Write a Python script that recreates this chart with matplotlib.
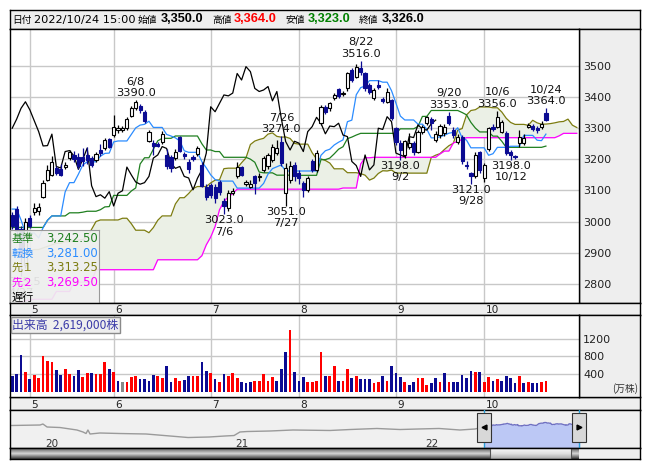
import numpy as np
import pandas as pd
import matplotlib
matplotlib.use('Agg')
import matplotlib.pyplot as plt
from matplotlib.patches import Rectangle
from matplotlib.colors import LinearSegmentedColormap

plt.rcParams['font.family'] = ['DejaVu Sans', 'Noto Sans CJK JP']

# ---------------- data ----------------
holidays = ['2022-04-29', '2022-05-03', '2022-05-04', '2022-05-05', '2022-07-18',
            '2022-08-11', '2022-09-19', '2022-09-23', '2022-10-10']

opens = [3020, 3040, 2975, 2860, 3012, 3029, 3035, 3080, 3134, 3149,
         3171, 3168, 3175, 3203, 3215, 3209, 3209, 3214, 3203, 3198,
         3230, 3236, 3266, 3278, 3293, 3295, 3300, 3340, 3364, 3372,
         3353, 3260, 3252, 3250, 3257, 3214, 3209, 3203, 3273, 3218,
         3190, 3206, 3217, 3182, 3112, 3118, 3112, 3128, 3065, 3043,
         3091, 3145, 3175, 3120, 3112, 3145, 3143, 3166, 3177, 3198,
         3220, 3257, 3091, 3134, 3182, 3155, 3123, 3102, 3193, 3166,
         3316, 3369, 3364, 3396, 3425, 3410, 3428, 3487, 3466, 3492,
         3476, 3439, 3396, 3439, 3393, 3385, 3391, 3300, 3252, 3214,
         3238, 3252, 3225, 3289, 3316, 3329, 3262, 3278, 3284, 3339,
         3295, 3257, 3273, 3182, 3155, 3145, 3225, 3139, 3232, 3303,
         3305, 3289, 3284, 3225, 3212, 3252, 3254, 3305, 3307, 3302,
         3305, 3350]
highs = [3030, 3050, 2985, 3010, 3020, 3059, 3060, 3134, 3182, 3211,
         3180, 3185, 3190, 3230, 3228, 3220, 3235, 3240, 3210, 3225,
         3250, 3268, 3270, 3343, 3310, 3308, 3335, 3370, 3390, 3378,
         3358, 3295, 3262, 3255, 3290, 3232, 3215, 3232, 3275, 3225,
         3200, 3215, 3242, 3190, 3120, 3125, 3120, 3135, 3075, 3100,
         3107, 3192, 3180, 3135, 3135, 3150, 3155, 3210, 3220, 3250,
         3262, 3274, 3187, 3195, 3190, 3165, 3130, 3145, 3200, 3230,
         3375, 3375, 3385, 3412, 3430, 3420, 3482, 3492, 3505, 3516,
         3480, 3445, 3430, 3455, 3400, 3428, 3395, 3305, 3262, 3262,
         3285, 3258, 3295, 3310, 3340, 3335, 3290, 3315, 3315, 3353,
         3305, 3280, 3278, 3193, 3160, 3225, 3228, 3188, 3305, 3315,
         3356, 3325, 3290, 3230, 3215, 3295, 3280, 3318, 3315, 3308,
         3322, 3364]
lows = [2975, 2960, 2825.5, 2850, 2980, 3022, 3020, 3075, 3129, 3145,
        3150, 3145, 3170, 3198, 3190, 3170, 3180, 3185, 3175, 3190,
        3212, 3230, 3235, 3272, 3285, 3288, 3295, 3335, 3358, 3350,
        3318, 3255, 3215, 3238, 3250, 3170, 3160, 3198, 3225, 3200,
        3155, 3195, 3210, 3110, 3070, 3075, 3060, 3085, 3023, 3035,
        3085, 3140, 3145, 3115, 3108, 3090, 3130, 3160, 3170, 3190,
        3215, 3180, 3051, 3125, 3130, 3120, 3080, 3095, 3160, 3160,
        3310, 3345, 3355, 3390, 3398, 3402, 3420, 3450, 3460, 3470,
        3420, 3410, 3390, 3425, 3380, 3380, 3325, 3245, 3198, 3205,
        3232, 3215, 3220, 3280, 3310, 3295, 3255, 3270, 3275, 3310,
        3270, 3250, 3185, 3170, 3121, 3140, 3155, 3128, 3228, 3290,
        3300, 3285, 3215, 3198, 3202, 3240, 3245, 3300, 3290, 3285,
        3298, 3323]
closes = [2985, 2970, 2890, 3000, 2985, 3043, 3046, 3125, 3166, 3192,
          3157, 3150, 3182, 3225, 3200, 3177, 3196, 3198, 3182, 3217,
          3220, 3262, 3241, 3305, 3300, 3300, 3329, 3364, 3385, 3359,
          3324, 3289, 3243, 3244, 3281, 3177, 3172, 3225, 3228, 3211,
          3168, 3200, 3236, 3115, 3080, 3086, 3075, 3096, 3050, 3091,
          3099, 3175, 3150, 3127, 3120, 3125, 3145, 3204, 3214, 3241,
          3235, 3187, 3171, 3177, 3145, 3140, 3102, 3139, 3166, 3220,
          3369, 3353, 3380, 3407, 3404, 3413, 3476, 3455, 3498, 3482,
          3428, 3418, 3423, 3434, 3388, 3418, 3332, 3257, 3230, 3258,
          3252, 3225, 3289, 3305, 3335, 3316, 3282, 3307, 3305, 3316,
          3278, 3273, 3193, 3180, 3145, 3214, 3166, 3182, 3300, 3296,
          3337, 3321, 3220, 3214, 3208, 3273, 3270, 3311, 3297, 3294,
          3314, 3326]
# volume in 10,000 shares
volumes = [354, 415, 834, 453, 301, 377, 324, 812, 697, 674,
           491, 377, 514, 400, 354, 491, 331, 423, 423, 400,
           400, 674, 514, 446, 263, 240, 240, 331, 354, 301,
           286, 263, 377, 354, 309, 583, 240, 309, 263, 278,
           354, 354, 370, 674, 469, 423, 286, 225, 400, 370,
           423, 309, 240, 210, 225, 263, 263, 400, 263, 331,
           263, 514, 903, 1383, 446, 263, 331, 240, 240, 263,
           903, 370, 370, 583, 263, 263, 514, 309, 370, 286,
           286, 286, 202, 225, 354, 248, 583, 431, 339, 225,
           171, 225, 309, 309, 171, 202, 309, 225, 431, 225,
           225, 225, 377, 309, 476, 453, 453, 240, 331, 263,
           286, 263, 354, 309, 202, 354, 202, 225, 202, 202,
           240, 261.9]

# ichimoku lines (one value per bar, spans run 7 bars ahead)
tenkan = [3040, 3040, 3005, 2963, 2963, 2963, 2947, 2980, 3004, 3018,
          3018, 3018, 3095, 3125, 3125, 3152, 3182, 3192, 3192, 3192,
          3210, 3219, 3220, 3256, 3259, 3259, 3259, 3280, 3301, 3310,
          3312.5, 3322.5, 3302.5, 3302.5, 3302.5, 3280, 3275, 3269, 3259, 3227.5,
          3222.5, 3222.5, 3222.5, 3192.5, 3172.5, 3150, 3135, 3130, 3130, 3130,
          3130, 3107.5, 3107.5, 3107.5, 3107.5, 3107.5, 3107.5, 3122.5, 3152.5, 3170,
          3176, 3182, 3162.5, 3162.5, 3162.5, 3162.5, 3162.5, 3162.5, 3162.5, 3162.5,
          3213, 3227.5, 3232.5, 3246, 3255, 3262.5, 3321, 3326, 3407.5, 3430.5,
          3435.5, 3453, 3453, 3453, 3448, 3448, 3420.5, 3380.5, 3339, 3326.5,
          3326.5, 3326.5, 3313, 3313, 3296.5, 3269, 3269, 3272.5, 3277.5, 3284,
          3286.5, 3301.5, 3269, 3261.5, 3237, 3237, 3237, 3237, 3213, 3218,
          3238.5, 3238.5, 3238.5, 3242, 3242, 3242, 3277, 3277, 3277, 3261.5,
          3260, 3281]
kijun = [2981, 2981, 2981, 2981, 2981, 2981, 2981, 2981, 3004, 3018,
         3018, 3018, 3018, 3028, 3028, 3028, 3030, 3033, 3033, 3033,
         3038, 3047, 3048, 3084, 3084, 3084, 3084, 3098, 3108, 3185,
         3205, 3205, 3232.5, 3259.5, 3267.5, 3267.5, 3267.5, 3275, 3275, 3275,
         3275, 3275, 3275, 3250, 3230, 3230, 3225, 3225, 3206.5, 3206.5,
         3206.5, 3206.5, 3206.5, 3206.5, 3200.5, 3190.5, 3159, 3156.5, 3156.5, 3156.5,
         3149, 3149, 3149, 3149, 3148.5, 3148.5, 3148.5, 3148.5, 3148.5, 3148.5,
         3199, 3199, 3204, 3217.5, 3232.5, 3240.5, 3266.5, 3271.5, 3278, 3283.5,
         3283.5, 3283.5, 3283.5, 3283.5, 3283.5, 3283.5, 3283.5, 3283.5, 3298, 3298,
         3298, 3298, 3305.5, 3338, 3338, 3357, 3357, 3357, 3357, 3357,
         3357, 3357, 3350.5, 3343, 3318.5, 3300.5, 3288, 3288, 3288, 3274.5,
         3274.5, 3258, 3238.5, 3238.5, 3238.5, 3238.5, 3238.5, 3238.5, 3238.5, 3238.5,
         3238.5, 3242.5]
senkou_a = [2890, 2890, 2895, 2900, 2905, 2910, 2910, 2915, 2920, 2925,
            2930, 2930, 2935, 2935, 2940, 2940, 2942, 2950, 2975, 3000,
            3005, 3005, 3005, 3005, 3005, 3010.5, 3010.5, 2993, 2972, 2972,
            2972, 2964, 2980.5, 3004, 3018, 3018, 3018, 3056.5, 3076.5, 3076.5,
            3090, 3106, 3112.5, 3112.5, 3112.5, 3124, 3133, 3134, 3170, 3171.5,
            3171.5, 3171.5, 3189, 3204.5, 3247.5, 3258.75, 3263.75, 3267.5, 3281, 3285,
            3273.75, 3271.25, 3272, 3267, 3251.25, 3248.75, 3248.75, 3248.75, 3221.25, 3201.25,
            3201.25, 3196.25, 3188, 3169.5, 3169.5, 3169.5, 3157, 3157, 3157, 3154,
            3149, 3133.25, 3139.5, 3154.5, 3163.25, 3162.5, 3165.5, 3155.75, 3155.75, 3155.5,
            3155.5, 3155.5, 3155.5, 3155.5, 3155.5, 3206, 3213.25, 3218.25, 3231.75, 3243.75,
            3251.5, 3293.75, 3298.75, 3342.75, 3357, 3359.5, 3368.25, 3368.25, 3368.25, 3365.75,
            3365.75, 3352, 3332, 3318.5, 3312.25, 3312.25, 3312.25, 3309.25, 3325.5, 3317.25,
            3313, 3313.25, 3314.75, 3317.25, 3320.5, 3321.75, 3329.25, 3309.75, 3302.25]
senkou_b = [2730, 2735, 2740, 2745, 2748, 2750, 2750, 2750, 2750, 2750,
            2775, 2775, 2775, 2775, 2805, 2805, 2805, 2805, 2807, 2845,
            2845, 2845, 2845, 2845, 2845, 2845, 2845, 2845, 2845, 2845,
            2845, 2845, 2845, 2877, 2877, 2877, 2877, 2877, 2877, 2877,
            2877, 2877, 2877, 2890, 2925, 2950, 2984, 3038, 3064, 3080,
            3090, 3104, 3104, 3104, 3104, 3104, 3104, 3104, 3104, 3104,
            3104, 3104, 3104, 3104, 3104, 3104, 3104, 3104, 3104, 3104,
            3104, 3104, 3104, 3104, 3104, 3107.75, 3107.75, 3107.75, 3107.75, 3185,
            3205, 3205, 3206.5, 3206.5, 3206.5, 3206.5, 3206.5, 3206.5, 3206.5, 3206.5,
            3206.5, 3206.5, 3206.5, 3206.5, 3206.5, 3206.5, 3206.5, 3217.5, 3226.5, 3226.5,
            3252.5, 3257.5, 3264, 3269.5, 3269.5, 3269.5, 3269.5, 3269.5, 3269.5, 3269.5,
            3269.5, 3269.5, 3269.5, 3269.5, 3269.5, 3269.5, 3269.5, 3269.5, 3269.5, 3269.5,
            3269.5, 3269.5, 3269.5, 3269.5, 3275.5, 3283.5, 3283.5, 3283.5, 3283.5]

peak_dates = ['2022-06-08', '2022-07-26', '2022-08-22', '2022-09-20', '2022-10-06', '2022-10-24']
trough_dates = ['2022-04-27', '2022-07-06', '2022-07-27', '2022-09-02', '2022-09-28', '2022-10-12']

# long history shown in the navigator (year, price)
nav_years = [2019.816, 2019.974, 2019.989, 2020.011, 2020.079, 2020.168, 2020.2, 2020.216,
             2020.226, 2020.237, 2020.289, 2020.395, 2020.532, 2020.658, 2020.753, 2020.863,
             2020.947, 2020.995, 2021.026, 2021.063, 2021.184, 2021.305, 2021.5, 2021.605,
             2021.747, 2021.868, 2021.963, 2022.074, 2022.184, 2022.263, 2022.305]
nav_prices = [3110, 3175, 3300, 2925, 2860, 2550, 2300, 2110,
              2550, 2050, 2175, 2110, 2050, 1800, 1610, 1675,
              1800, 1860, 2300, 2360, 2425, 2550, 2490, 2610,
              2740, 2610, 2675, 2740, 2550, 2675, 2925]
nav_ticks = [2020, 2021, 2022]

head_time = '2022/10/24 15:00'

# ---------------- derived ----------------
dates = pd.bdate_range('2022-04-25', '2022-10-24')
dates = dates[~dates.isin(pd.to_datetime(holidays))]
opens, highs, lows, closes = map(np.array, (opens, highs, lows, closes))
volumes = np.array(volumes)
x = np.arange(len(dates))
chikou = pd.Series(closes).shift(-25).to_numpy()
month_first = [i for i in range(1, len(dates)) if dates[i].month != dates[i - 1].month]

DOWN = '#0b0b92'
GRID = '#c8c8c8'
PANEL = '#eeeeee'
JP = ['Noto Sans CJK JP', 'DejaVu Sans']
W, H = 653, 470


def px_box(x0, y0, x1, y1):
    return [x0 / W, 1 - y1 / H, (x1 - x0) / W, (y1 - y0) / H]


fig = plt.figure(figsize=(W / 100, H / 100), dpi=100)
fig.patch.set_facecolor('white')

# ---------------- header ----------------
ax_head = fig.add_axes(px_box(10, 10, 640, 29))
ax_head.set_facecolor(PANEL)
ax_head.set_xticks([]); ax_head.set_yticks([])
hy = 1 - 19.5 / H
parts = [
    (12, '日付', 'black', 'normal', 7),
    (34, head_time, 'black', 'normal', 8.2),
    (138, '始値', 'black', 'normal', 7),
    (161, f'{opens[-1]:,.1f}', 'black', 'bold', 9.2),
    (212, '高値', 'black', 'normal', 7),
    (234, f'{highs[-1]:,.1f}', 'red', 'bold', 9.2),
    (286, '安値', 'black', 'normal', 7),
    (308, f'{lows[-1]:,.1f}', '#008000', 'bold', 9.2),
    (359, '終値', 'black', 'normal', 7),
    (382, f'{closes[-1]:,.1f}', 'black', 'bold', 9.2),
]
for px, s, c, wt, fs in parts:
    fam = ['Liberation Sans', 'Noto Sans CJK JP'] if wt == 'bold' else ['DejaVu Sans', 'Noto Sans CJK JP']
    fig.text(px / W, hy, s, color=c, fontweight=wt, fontsize=fs, va='center', ha='left', family=fam)

# ---------------- price panel ----------------
ax_pl = fig.add_axes(px_box(579, 29, 640, 303))
ax_pl.set_facecolor(PANEL)
ax_pl.set_xticks([]); ax_pl.set_yticks([])

ax = fig.add_axes(px_box(10, 29, 579, 303))
ax.set_xlim(-0.5, 128.5)
ax.set_ylim(2738, 3619)
price_ticks = np.arange(2800, 3501, 100)
for v in price_ticks:
    ax.axhline(v, color=GRID, lw=1, zorder=0)
for i in month_first:
    ax.axvline(i, color=GRID, lw=1, zorder=0)
ax.yaxis.tick_right()
ax.set_yticks(price_ticks)
ax.set_yticklabels([str(v) for v in price_ticks])
ax.tick_params(axis='y', length=0, pad=3, labelsize=8, labelcolor='#222222')
ax.set_xticks([])

xs = np.arange(len(senkou_a))
sa = np.array(senkou_a); sb = np.array(senkou_b)
ax.fill_between(xs, sa, sb, color='#ebf0e6', lw=0, zorder=1)
ax.plot(xs, sa, color='#7c7c10', lw=0.9, zorder=2)
ax.plot(xs, sb, color='#ff00ff', lw=0.9, zorder=2)
ax.plot(x, kijun, color='#1f7f1f', lw=0.9, zorder=2)
ax.plot(x, tenkan, color='#2b8cff', lw=0.9, zorder=2)
ax.plot(x, chikou, color='black', lw=0.9, zorder=2)

up = closes >= opens
body_lo = np.minimum(opens, closes)
body_h = np.abs(closes - opens)
ax.vlines(x, lows, highs, colors=np.where(up, 'black', DOWN), lw=0.9, zorder=3)
ax.bar(x, body_h, bottom=body_lo, width=0.72,
       color=np.where(up, 'white', DOWN), edgecolor=np.where(up, 'black', DOWN),
       lw=0.8, zorder=4)

date_idx = {d.strftime('%Y-%m-%d'): i for i, d in enumerate(dates)}
lab = dict(fontsize=8.2, ha='center', va='center', color='#111111', zorder=6,
           textcoords='offset points', clip_on=True)
for d in peak_dates:
    i = date_idx[d]
    md = f'{dates[i].month}/{dates[i].day}'
    for s, dy in ((f'{highs[i]:.1f}', 5.0), (md, 13.4)):
        ax.annotate(s, (i, highs[i]), xytext=(0, dy), **lab)
for d in trough_dates:
    i = date_idx[d]
    md = f'{dates[i].month}/{dates[i].day}'
    for s, dy in ((f'{lows[i]:.1f}', -4.4), (md, -12.4)):
        ax.annotate(s, (i, lows[i]), xytext=(0, dy), **lab)

# ichimoku legend box
ax_leg = fig.add_axes(px_box(10, 230, 99, 303))
ax_leg.patch.set_facecolor('#efefef')
ax_leg.patch.set_alpha(0.92)
ax_leg.set_xticks([]); ax_leg.set_yticks([])
for s in ax_leg.spines.values():
    s.set_color('#9a9a9a')
ax_leg.set_xlim(0, 89); ax_leg.set_ylim(73, 0)
rows = [('基準', kijun[-1], '#1f7f1f'), ('転換', tenkan[-1], '#2b8cff'),
        ('先１', senkou_a[len(dates) - 1], '#7c7c10'), ('先２', senkou_b[len(dates) - 1], '#ff00ff'),
        ('遅行', None, 'black')]
for k, (name, val, c) in enumerate(rows):
    yy = 9 + k * 14.5
    ax_leg.text(2, yy, name, color=c, fontsize=8, va='center', ha='left', family=JP)
    if val is not None:
        ax_leg.text(87.5, yy, f'{val:,.2f}', color=c, fontsize=8.4, va='center', ha='right')

# ---------------- date bands ----------------
for y0, y1 in [(303, 315), (397, 410)]:
    axd = fig.add_axes(px_box(10, y0, 640, y1))
    axd.set_facecolor(PANEL)
    axd.set_xlim(-0.5, 128.5 + 61 / 4.411)
    axd.set_ylim(0, 1)
    axd.set_xticks([]); axd.set_yticks([])
    for i in month_first:
        axd.text(i + 0.35, 0.42, str(dates[i].month), fontsize=7.6, ha='left', va='center',
                 color='#222222')

# ---------------- volume panel ----------------
ax_vl = fig.add_axes(px_box(579, 315, 640, 397))
ax_vl.set_facecolor(PANEL)
ax_vl.set_xticks([]); ax_vl.set_yticks([])
ax_vl.text(0.97, 0.1, '(万株)', transform=ax_vl.transAxes, ha='right', va='center',
           fontsize=7, color='#333333', family=JP)

axv = fig.add_axes(px_box(10, 315, 579, 397))
axv.set_xlim(-0.5, 128.5)
axv.set_ylim(-105, 1727)
vol_ticks = [400, 800, 1200]
for v in vol_ticks:
    axv.axhline(v, color=GRID, lw=1, zorder=0)
for i in month_first:
    axv.axvline(i, color=GRID, lw=1, zorder=0)
chg = np.diff(closes, prepend=opens[0])
vcol = np.where(chg > 0, '#ff0000', np.where(chg < 0, DOWN, '#888888'))
axv.bar(x, volumes, width=0.62, color=vcol, zorder=2)
axv.yaxis.tick_right()
axv.set_yticks(vol_ticks)
axv.set_yticklabels([str(v) for v in vol_ticks])
axv.tick_params(axis='y', length=0, pad=3, labelsize=8, labelcolor='#222222')
axv.set_xticks([])
axv.text(0.004, 0.955, f'出来高  {int(round(volumes[-1] * 10000)):,}株', transform=axv.transAxes,
         ha='left', va='top', fontsize=8.6, color='#3b3ba8', zorder=5, family=JP,
         bbox=dict(boxstyle='square,pad=0.12', fc=PANEL, ec='#8a8a8a', lw=1))

# ---------------- navigator ----------------
yr0 = 2022 + (10 - 425) / 190
yr1 = 2022 + (640 - 425) / 190
win_years = np.array([d.year + (d.dayofyear - 1) / 365 for d in dates])
sel0, sel1 = win_years[0], 2022 + (579 - 425) / 190

axn = fig.add_axes(px_box(10, 410, 640, 448))
axn.set_facecolor('#f0f0f0')
axn.set_xlim(yr0, yr1)
axn.set_ylim(300, 5050)
axn.set_xticks([]); axn.set_yticks([])
axn.plot(nav_years, nav_prices, color='#9a9a9a', lw=1, zorder=2)
axn.fill_between(np.r_[sel0, win_years], np.r_[closes[0], closes], 300, color='#bcc8f5', zorder=1)
axn.plot(win_years, closes, color='#7070c0', lw=0.9, zorder=2)
for s in (sel0, sel1):
    axn.axvline(s, color='#2aa0d8', lw=1, zorder=3)
for t in nav_ticks:
    axn.text(t, 800, str(t)[2:], fontsize=7.5, ha='left', va='center', color='#333333')
# handles
hw = 14 / 190
for s, mk in ((sel0, '<'), (sel1, '>')):
    axn.add_patch(Rectangle((s - hw / 2, 3300 - 4.6 * 125 * 4), hw, 29 * 125,
                            fc='#d8d8d8', ec='#333333', lw=0.8, zorder=4))
    axn.plot(s, 2950, marker=mk, color='black', ms=3.5, zorder=5)

axs = fig.add_axes(px_box(10, 448, 640, 459))
axs.set_xlim(yr0, yr1); axs.set_ylim(0, 1)
axs.set_xticks([]); axs.set_yticks([])
axs.set_facecolor(PANEL)
dark = LinearSegmentedColormap.from_list('d', ['#5a5a5a', '#d6d6d6', '#3a3a3a'])
light = LinearSegmentedColormap.from_list('l', ['#fafafa', '#e0e0e0', '#a8a8a8'])
grad = np.linspace(0, 1, 32).reshape(-1, 1)
thumb0 = 2022 + (490 - 425) / 190
thumb1 = 2022 + (571 - 425) / 190
axs.imshow(grad, cmap=dark, aspect='auto', extent=(yr0, thumb0, 0, 1), zorder=1)
axs.imshow(grad, cmap=light, aspect='auto', extent=(thumb0, thumb1, 0, 1), zorder=1)
axs.imshow(grad, cmap=dark, aspect='auto', extent=(thumb1, sel1, 0, 1), zorder=1)
axs.add_patch(Rectangle((thumb0, 0), thumb1 - thumb0, 1, fc='none', ec='#555555', lw=0.8, zorder=2))
axs.set_xlim(yr0, yr1)

for a in fig.axes:
    for s in a.spines.values():
        if a is not ax_leg:
            s.set_color('black'); s.set_linewidth(1)

fig.savefig('out.png', dpi=100)
